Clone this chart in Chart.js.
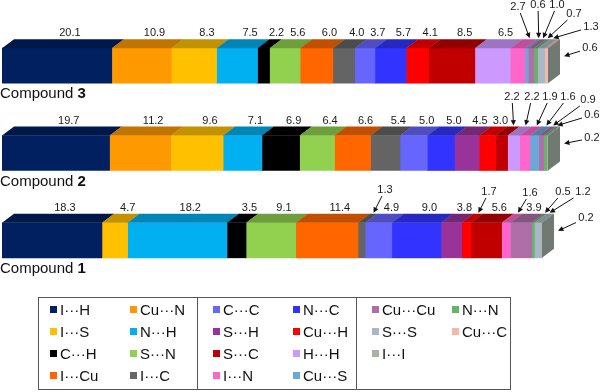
<!DOCTYPE html>
<html>
<head>
<meta charset="utf-8">
<script src="https://cdn.jsdelivr.net/npm/chart.js@4"></script>
<style>
  html, body { margin: 0; padding: 0; background: #fff; }
  #wrap { position: relative; width: 600px; height: 392px; font-family: "Liberation Sans", Arial, sans-serif; }
  #legend { position: absolute; left: 38px; top: 297px; width: 473px; height: 93px; border: 1px solid #555; box-sizing: border-box; }
  .panel { position: absolute; top: 0; bottom: 0; }
  .panel.sep { border-left: 1px solid #555; }
  .item { position: absolute; font-size: 15px; line-height: 18px; color: #111; white-space: nowrap; }
  .sw { display: inline-block; width: 7px; height: 7px; margin-right: 3px; position: relative; top: -2px; }
</style>
</head>
<body>
<div id="wrap">
  <canvas id="chart" width="600" height="392"></canvas>
  <div id="legend"></div>
</div>
<script>
// Data
const categories = ["Compound 3", "Compound 2", "Compound 1"];
const contacts = [
  "I···H", "Cu···N", "I···S", "N···H", "C···H", "S···N", "I···Cu", "I···C",
  "C···C", "N···C", "S···H", "Cu···H", "S···C", "H···H", "I···N", "Cu···S",
  "Cu···Cu", "N···N", "S···S", "Cu···C", "I···I",
];
const compound3 = [20.1, 10.9, 8.3, 7.5, 2.2, 5.6, 6.0, 4.0, 3.7, 5.7, 0, 4.1, 8.5, 6.5, 2.7, 0.6, 1.0, 0.7, 1.3, 0.6, 0];
const compound2 = [19.7, 11.2, 9.6, 7.1, 6.9, 6.4, 6.6, 5.4, 5.0, 5.0, 4.5, 3.0, 2.2, 2.2, 1.9, 1.6, 0.9, 0.6, 0, 0, 0.2];
const compound1 = [18.3, 0, 4.7, 18.2, 3.5, 9.1, 11.4, 1.3, 4.9, 9.0, 3.8, 1.7, 5.6, 0, 1.6, 0, 3.9, 0.5, 1.2, 0, 0.2];

const colors = [
  "#002060", "#ff9900", "#ffc000", "#00b0f0", "#000000", "#92d050", "#ff6600", "#646464",
  "#6666ff", "#3333ff", "#993399", "#ff0000", "#c00000", "#cc99ff", "#ff66cc", "#6aa8d8",
  "#b06ea8", "#6ab26a", "#a9b8c8", "#f4b9a8", "#a5b4a5",
];

// Callout labels with arrows: [row, series, label x, label y, points at side face]
const callouts = [
  [0, 14, 518, 7], [0, 15, 538, 5], [0, 16, 557, 5], [0, 17, 574, 14], [0, 18, 591, 27], [0, 19, 590, 48, true],
  [1, 12, 512, 97], [1, 13, 532, 97], [1, 14, 550, 97], [1, 15, 568, 97], [1, 16, 588, 100], [1, 17, 592, 115], [1, 20, 592, 138, true],
  [2, 7, 385, 190], [2, 11, 489, 192], [2, 14, 530, 193], [2, 17, 563, 192], [2, 18, 583, 192], [2, 20, 586, 218, true],
];

const DX = 12, DY = 9;
const rows = [compound3, compound2, compound1];

function shade(hex, f) {
  const n = parseInt(hex.slice(1), 16);
  const r = Math.round(((n >> 16) & 255) * f);
  const g = Math.round(((n >> 8) & 255) * f);
  const b = Math.round((n & 255) * f);
  return `rgb(${r},${g},${b})`;
}

function barGeom(chart, i, row) {
  const el = chart.getDatasetMeta(i).data[row];
  const p = el.getProps(["x", "base", "y", "height"], true);
  return { x0: Math.min(p.base, p.x), x1: Math.max(p.base, p.x), top: p.y - p.height / 2, bottom: p.y + p.height / 2 };
}

function arrow(ctx, fx, fy, tx, ty) {
  const ang = Math.atan2(ty - fy, tx - fx);
  ctx.strokeStyle = "#111";
  ctx.fillStyle = "#111";
  ctx.lineWidth = 1;
  ctx.beginPath();
  ctx.moveTo(fx, fy);
  ctx.lineTo(tx - Math.cos(ang) * 3, ty - Math.sin(ang) * 3);
  ctx.stroke();
  ctx.beginPath();
  ctx.moveTo(tx, ty);
  ctx.lineTo(tx - Math.cos(ang - 0.45) * 6, ty - Math.sin(ang - 0.45) * 6);
  ctx.lineTo(tx - Math.cos(ang + 0.45) * 6, ty - Math.sin(ang + 0.45) * 6);
  ctx.closePath();
  ctx.fill();
}

// Top and end faces to give the bars their 3D look
const bar3d = {
  id: "bar3d",
  afterDatasetsDraw(chart) {
    const ctx = chart.ctx;
    ctx.save();
    rows.forEach((vals, row) => {
      let last = null;
      vals.forEach((v, i) => {
        if (!v) return;
        const g = barGeom(chart, i, row);
        ctx.fillStyle = shade(colors[i], 0.76);
        ctx.beginPath();
        ctx.moveTo(g.x0, g.top);
        ctx.lineTo(g.x1 + 0.3, g.top);
        ctx.lineTo(g.x1 + DX + 0.3, g.top - DY);
        ctx.lineTo(g.x0 + DX, g.top - DY);
        ctx.closePath();
        ctx.fill();
        last = g;
      });
      if (last) {
        ctx.fillStyle = "#707a73";
        ctx.beginPath();
        ctx.moveTo(last.x1, last.top);
        ctx.lineTo(last.x1 + DX, last.top - DY);
        ctx.lineTo(last.x1 + DX, last.bottom - DY);
        ctx.lineTo(last.x1, last.bottom);
        ctx.closePath();
        ctx.fill();
      }
    });
    ctx.restore();
  },
};

// Value labels, callouts and compound names
const labels = {
  id: "labels",
  afterDraw(chart) {
    const ctx = chart.ctx;
    ctx.save();
    ctx.font = '11px "Liberation Sans", Arial, sans-serif';
    ctx.textAlign = "center";
    ctx.textBaseline = "middle";
    rows.forEach((vals, row) => {
      let lastGeom = null;
      vals.forEach((v, i) => { if (v) lastGeom = barGeom(chart, i, row); });
      vals.forEach((v, i) => {
        if (!v) return;
        const g = barGeom(chart, i, row);
        const text = v.toFixed(1);
        const co = callouts.find((c) => c[0] === row && c[1] === i);
        ctx.fillStyle = "#1a1a1a";
        if (!co) {
          ctx.fillText(text, (g.x0 + g.x1) / 2 + 13, g.top - DY - 6);
          return;
        }
        const lx = co[2], ly = co[3];
        ctx.fillText(text, lx, ly);
        let tx, ty;
        if (co[4]) {
          tx = lastGeom.x1 + DX + 4;
          ty = lastGeom.top + 8;
        } else {
          tx = (g.x0 + g.x1) / 2 + DX;
          ty = g.top - DY - 1;
        }
        const dx = tx - lx, dy = ty - ly;
        const len = Math.hypot(dx, dy);
        const ux = dx / len, uy = dy / len;
        const t = Math.min(Math.abs(ux) > 0.01 ? 10 / Math.abs(ux) : 99, Math.abs(uy) > 0.01 ? 6 / Math.abs(uy) : 99);
        arrow(ctx, lx + ux * t, ly + uy * t, tx, ty);
      });
      // compound name under the bar, number in bold
      const g0 = barGeom(chart, 0, row);
      const parts = categories[row].split(" ");
      const word = parts[0] + " ";
      ctx.textAlign = "left";
      ctx.fillStyle = "#111";
      ctx.font = '15px "Liberation Sans", Arial, sans-serif';
      const y = g0.bottom + 11;
      ctx.fillText(word, 0, y);
      const w = ctx.measureText(word).width;
      ctx.font = 'bold 15px "Liberation Sans", Arial, sans-serif';
      ctx.fillText(parts[1], w, y);
      ctx.font = '11px "Liberation Sans", Arial, sans-serif';
      ctx.textAlign = "center";
    });
    ctx.restore();
  },
};

new Chart(document.getElementById("chart"), {
  type: "bar",
  data: {
    labels: categories,
    datasets: contacts.map((name, i) => ({
      label: name,
      data: rows.map((r) => r[i]),
      backgroundColor: colors[i],
      borderWidth: 0,
      barThickness: 35,
    })),
  },
  options: {
    indexAxis: "y",
    responsive: false,
    animation: false,
    layout: { padding: { left: 2, right: 52, top: 22, bottom: 108 } },
    plugins: {
      legend: { display: false },
      tooltip: { enabled: false },
    },
    scales: {
      x: { stacked: true, min: 0, max: 100, display: false },
      y: { stacked: true, display: false },
    },
  },
  plugins: [bar3d, labels],
});

// Legend box: three panels, two columns each
const legend = document.getElementById("legend");
const panels = [[0, 8, 0, 158], [8, 16, 158, 159], [16, 21, 317, 155]];
panels.forEach(([from, to, left, width], p) => {
  const panel = document.createElement("div");
  panel.className = "panel" + (p > 0 ? " sep" : "");
  panel.style.left = left + "px";
  panel.style.width = width + "px";
  for (let i = from; i < to; i++) {
    const k = i - from;
    const item = document.createElement("div");
    item.className = "item";
    item.style.left = (p === 0 ? 11 : 15) + (k % 2) * 80 + "px";
    item.style.top = 3 + Math.floor(k / 2) * 22 + "px";
    item.innerHTML = `<span class="sw" style="background:${colors[i]}"></span>${contacts[i]}`;
    panel.appendChild(item);
  }
  legend.appendChild(panel);
});
</script>
</body>
</html>
